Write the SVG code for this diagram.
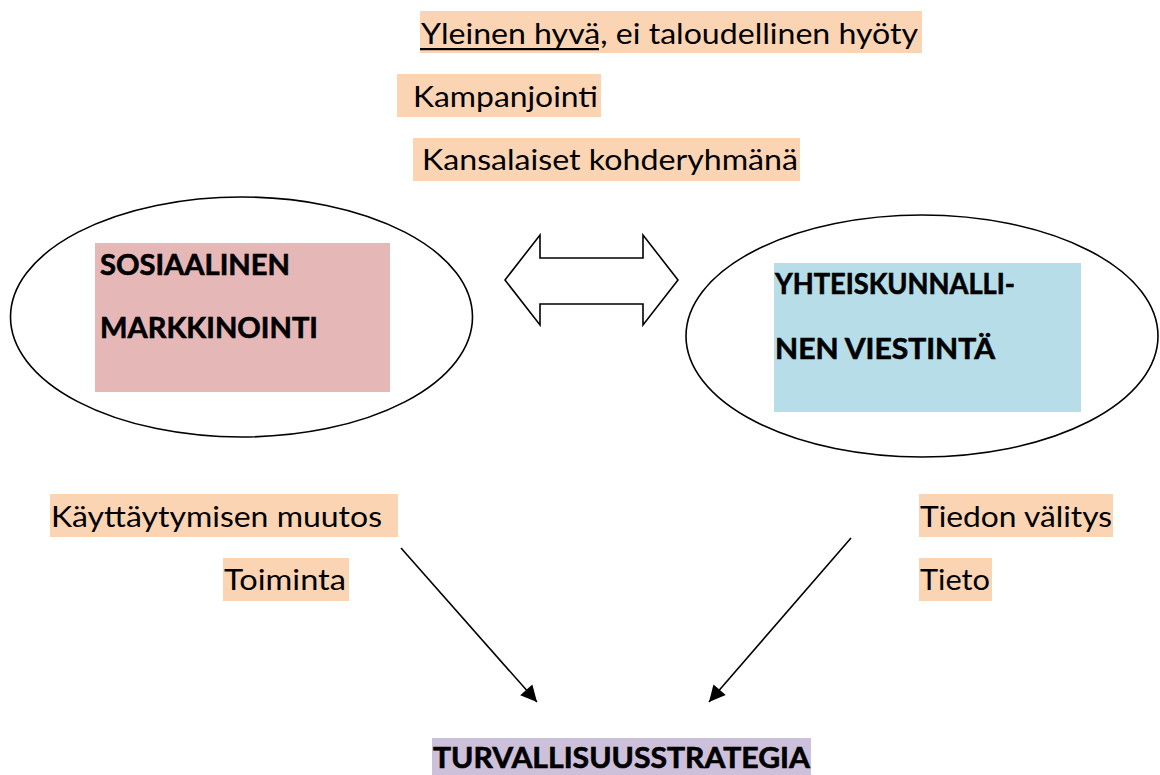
<svg xmlns="http://www.w3.org/2000/svg" width="1160" height="775" viewBox="0 0 1160 775">
<style>
.hl{fill:#FBD4B4}
.t{font-family:Lato,"Liberation Sans",sans-serif;font-size:29px;fill:#000}
.b{font-family:Lato,"Liberation Sans",sans-serif;font-size:28.5px;font-weight:700;fill:#000;stroke:#000;stroke-width:0.6}
.ell{fill:#fff;stroke:#000;stroke-width:1.6}
.conn{stroke:#000;stroke-width:1.6;fill:none}
</style>
<defs>
<marker id="ah" viewBox="0 0 10 10" refX="10" refY="5" markerWidth="10" markerHeight="9" markerUnits="userSpaceOnUse" orient="auto" overflow="visible">
<path d="M0,0 L10,5 L0,10 Z" fill="#000" transform="scale(1.8)" transform-origin="10 5"/>
</marker>
</defs>
<rect width="1160" height="775" fill="#fff"/>
<g id="label-yleinen">
<rect class="hl" x="420" y="11" width="502" height="42"/>
<text class="t" x="421" y="44" textLength="497" lengthAdjust="spacingAndGlyphs">Yleinen hyvä, ei taloudellinen hyöty</text>
<rect x="420" y="48" width="179" height="2.2" fill="#000"/>
</g>
<g id="label-kampanjointi">
<rect class="hl" x="397" y="74" width="204" height="43"/>
<text class="t" x="413" y="107" textLength="185" lengthAdjust="spacingAndGlyphs">Kampanjointi</text>
</g>
<g id="label-kansalaiset">
<rect class="hl" x="413" y="138" width="387" height="43"/>
<text class="t" x="422" y="170" textLength="376" lengthAdjust="spacingAndGlyphs">Kansalaiset kohderyhmänä</text>
</g>
<g id="node-sosiaalinen">
<ellipse class="ell" cx="241.500" cy="317" rx="231" ry="120"/>
<rect x="95" y="243" width="295" height="149" fill="#E5B8B7"/>
<text class="b" x="100" y="275" textLength="190" lengthAdjust="spacingAndGlyphs">SOSIAALINEN</text>
<text class="b" x="100" y="338" textLength="218" lengthAdjust="spacingAndGlyphs">MARKKINOINTI</text>
</g>
<g id="node-yhteiskunnallinen">
<ellipse class="ell" cx="922" cy="336" rx="236" ry="121"/>
<rect x="774" y="263" width="307" height="149" fill="#B7DDE8"/>
<text class="b" x="775" y="294" textLength="240" lengthAdjust="spacingAndGlyphs">YHTEISKUNNALLI-</text>
<text class="b" x="775" y="359" textLength="220" lengthAdjust="spacingAndGlyphs">NEN VIESTINTÄ</text>
</g>
<g id="label-kayttaytymisen">
<rect class="hl" x="50" y="494" width="348" height="43"/>
<text class="t" x="51" y="527" textLength="331" lengthAdjust="spacingAndGlyphs">Käyttäytymisen muutos</text>
</g>
<g id="label-toiminta">
<rect class="hl" x="223" y="558" width="126" height="43"/>
<text class="t" x="224" y="590" textLength="122" lengthAdjust="spacingAndGlyphs">Toiminta</text>
</g>
<g id="label-tiedon">
<rect class="hl" x="919" y="494" width="194" height="43"/>
<text class="t" x="920" y="527" textLength="192" lengthAdjust="spacingAndGlyphs">Tiedon välitys</text>
</g>
<g id="label-tieto">
<rect class="hl" x="919" y="558" width="73" height="43"/>
<text class="t" x="920" y="590" textLength="70" lengthAdjust="spacingAndGlyphs">Tieto</text>
</g>
<g id="node-turvallisuusstrategia">
<rect x="432" y="738" width="379" height="37" fill="#CCC0DA"/>
<text class="b" x="433" y="768" textLength="377" lengthAdjust="spacingAndGlyphs">TURVALLISUUSSTRATEGIA</text>
</g>
<g id="connectors">
<polygon points="505,280 540,235 540,258 643,258 643,235 678,280 643,325 643,304 540,304 540,325" fill="#fff" stroke="#000" stroke-width="1.6" stroke-linejoin="miter"/>
<line class="conn" x1="401" y1="548" x2="537" y2="702" marker-end="url(#ah)"/>
<line class="conn" x1="851" y1="538" x2="709" y2="702" marker-end="url(#ah)"/>
</g>
</svg>
